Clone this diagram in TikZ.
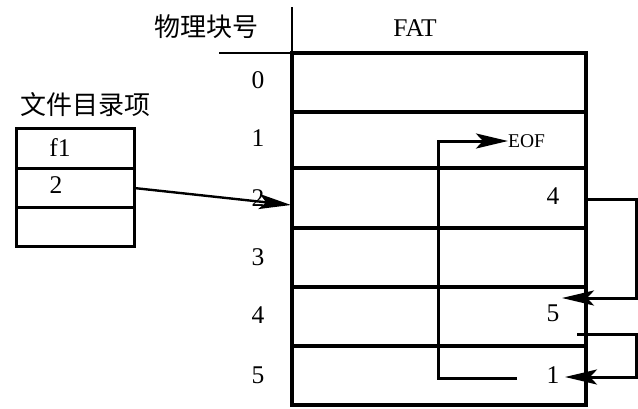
\documentclass[tikz,border=0pt]{standalone}
\usepackage{fontspec}
\setmainfont{Liberation Serif}
\newfontfamily\cjk{Noto Sans CJK SC}
\usetikzlibrary{arrows.meta}
\tikzset{
  fatcell/.style={draw, line width=3.2pt, minimum width=294pt, inner sep=0pt, outer sep=0pt},
  dircell/.style={draw, line width=3pt, minimum width=118pt, inner sep=0pt, outer sep=0pt},
  num/.style={font=\fontsize{25.5}{25.5}\selectfont, inner sep=0pt},
  cjklabel/.style={font=\cjk\fontsize{26}{26}\selectfont, inner sep=0pt},
  link/.style={line width=3pt, -{Stealth[length=32pt, width=15pt, inset=7pt]}},
  thinrule/.style={line width=2.2pt}
}
\begin{document}
\begin{tikzpicture}[x=1pt,y=-1pt]
\useasboundingbox (0,0) rectangle (638,408);
% header
\node[cjklabel] (hdr) at (206,27) {物理块号};
\node[num] (fat) at (415,28) {FAT};
\coordinate (vtop) at (292,7);
\coordinate (vbot) at (292,53);
\coordinate (hl) at (219,53);
\draw[thinrule] (vtop) -- (vbot);
\draw[thinrule] (hl) -- (vbot);
% FAT cells
\node[fatcell, minimum height=59pt] (c0) at (439,82.5) {};
\node[fatcell, minimum height=56pt] (c1) at (439,140) {};
\node[fatcell, minimum height=60pt] (c2) at (439,198) {};
\node[fatcell, minimum height=59pt] (c3) at (439,257.5) {};
\node[fatcell, minimum height=59pt] (c4) at (439,316.5) {};
\node[fatcell, minimum height=59pt] (c5) at (439,375.5) {};
% row numbers
\node[num] (n0) at (258,80) {0};
\node[num] (n1) at (258,138) {1};
\node[num] (n2) at (258,198) {2};
\node[num] (n3) at (258,257) {3};
\node[num] (n4) at (258,315) {4};
\node[num] (n5) at (258,375) {5};
% cell contents
\node[num] (v2) at (553,196) {4};
\node[num] (v4) at (553,313) {5};
\node[num] (v5) at (553,375) {1};
\node[font=\fontsize{19.5}{19.5}\selectfont, inner sep=0pt, anchor=west] (eof) at (508,141) {EOF};
% directory
\node[cjklabel] (dirhdr) at (85,105) {文件目录项};
\node[dircell, minimum height=40pt] (d0) at (75,148) {};
\node[dircell, minimum height=39pt] (d1) at (75,187.5) {};
\node[dircell, minimum height=39pt] (d2) at (75,226.5) {};
\node[num] (f1) at (60,148) {f1};
\node[num] (two) at (56,185) {2};
% arrow from directory
\coordinate (a0) at (134,188);
\coordinate (a1) at (291,205);
\draw[link, line width=2.4pt] (a0) -- (a1);
% chain 2 -> 4
\coordinate (p1) at (636,199);
\coordinate (p2) at (636,298);
\coordinate (p3) at (562,298);
\draw[link] (c2.east |- p1) -- (p1) -- (p2) -- (p3);
% chain 4 -> 5
\coordinate (q0) at (577,334);
\coordinate (q1) at (636,334);
\coordinate (q2) at (636,377);
\coordinate (q3) at (565,377);
\draw[link] (q0) -- (q1) -- (q2) -- (q3);
% chain 5 -> 1
\coordinate (r0) at (517,378);
\coordinate (r1) at (438,378);
\coordinate (r2) at (438,141);
\draw[link] (r0) -- (r1) -- (r2) -- (eof.west);
\end{tikzpicture}
\end{document}
